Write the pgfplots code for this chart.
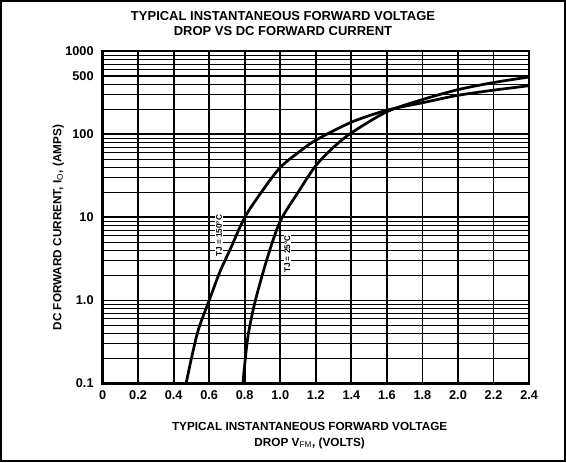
\documentclass[border=0pt]{standalone}
\usepackage{fontspec}
\setmainfont{Liberation Sans}
\usepackage{pgfplots}
\pgfplotsset{compat=1.18}
\begin{document}
\begin{tikzpicture}
\begin{axis}[
  at={(0,0)}, anchor=south west,
  scale only axis, width=312pt, height=243pt,
  xmin=0, xmax=2.4, ymode=log, ymin=0.1, ymax=1000,
  xtick={0,0.2,0.4,0.6,0.8,1.0,1.2,1.4,1.6,1.8,2.0,2.2,2.4},
  xticklabels={0,0.2,0.4,0.6,0.8,1.0,1.2,1.4,1.6,1.8,2.0,2.2,2.4},
  ytick={0.1,1,10,100,500,1000},
  yticklabels={0.1,1.0,10,100,500,1000},
  minor ytick={0.2,0.3,0.4,0.5,0.6,0.7,0.8,0.9,2,3,4,5,6,7,8,9,20,30,40,50,60,70,80,90,200,300,400,600,700,800,900},
  grid=both,
  major grid style={black, line width=1.3pt},
  minor grid style={black, line width=0.8pt},
  axis line style={line width=1.8pt},
  major tick length=0pt, minor tick length=0pt,
  tick label style={font=\fontsize{9.3}{10}\selectfont\bfseries},
  xticklabel style={yshift=-2pt},
  yticklabel style={xshift=-3pt},
]
\addplot[black, line width=2pt, smooth, tension=0.5] coordinates {
(0.47,0.1) (0.50,0.2) (0.54,0.45) (0.60,1.0) (0.66,2.2) (0.72,4.2) (0.80,10)
(0.90,21) (1.00,40) (1.10,60) (1.20,85) (1.40,140) (1.60,195) (1.80,240)
(2.00,295) (2.20,340) (2.40,385)};
\addplot[black, line width=2pt, smooth, tension=0.5] coordinates {
(0.79,0.1) (0.80,0.17) (0.82,0.39) (0.86,1.0) (0.93,3.4) (1.00,9) (1.10,20)
(1.20,42) (1.30,70) (1.40,104) (1.60,187) (1.80,262) (2.00,345) (2.20,420) (2.40,490)};
\node[rotate=90, fill=white, inner sep=0.5pt, font=\fontsize{6}{7}\selectfont\bfseries] at (axis cs:0.655,6.0) {TJ = 150°C};
\node[rotate=90, fill=white, inner sep=0.5pt, font=\fontsize{6}{7}\selectfont\bfseries] at (axis cs:1.04,3.6) {TJ = 25°C};
\end{axis}
\draw[line width=1.5pt] (-74.25pt,-57pt) rectangle (338.25pt,279.75pt);
\node[align=center, font=\fontsize{9.5}{11}\selectfont\bfseries] at (132pt,263pt)
  {TYPICAL INSTANTANEOUS FORWARD VOLTAGE\\DROP VS DC FORWARD CURRENT};
\node[align=center, font=\fontsize{8.6}{11.5}\selectfont\bfseries] at (151.5pt,-38pt)
  {TYPICAL INSTANTANEOUS FORWARD VOLTAGE\\DROP V$_{\mathrm{FM}}$, (VOLTS)};
\node[rotate=90, font=\fontsize{8.6}{10}\selectfont\bfseries] at (-32.25pt,114pt)
  {DC FORWARD CURRENT, I$_\mathrm{O}$, (AMPS)};
\end{tikzpicture}
\end{document}
